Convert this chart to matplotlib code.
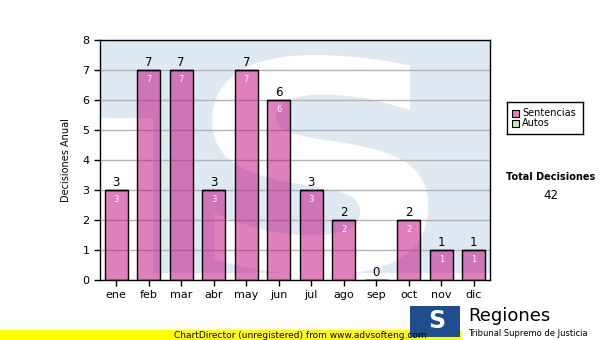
import numpy as np
import matplotlib.pyplot as plt
from matplotlib.patches import Rectangle, PathPatch
from matplotlib.textpath import TextPath
from matplotlib.font_manager import FontProperties
from matplotlib.transforms import Affine2D

meses = ["ene", "feb", "mar", "abr", "may", "jun", "jul", "ago", "sep", "oct", "nov", "dic"]
sentencias = [3, 7, 7, 3, 7, 6, 3, 2, 0, 2, 1, 1]
autos = [0, 0, 0, 0, 0, 0, 0, 0, 0, 0, 0, 0]
total = sum(sentencias) + sum(autos)

W, H = 600, 340
fig = plt.figure(figsize=(6, 3.4), dpi=100)
fig.patch.set_facecolor("white")


def fx(px):
    return px / W


def fy(py):
    return 1 - py / H


ax = fig.add_axes([fx(100), fy(280), fx(490) - fx(100), fy(40) - fy(280)])
ax.set_xlim(-0.5, 11.5)
ax.set_ylim(0, 8)

# marca de agua (fondo azul claro con una S blanca)
azul = "#dfe9f2"
ax.add_patch(Rectangle((-0.5, 5.4), 12, 2.6, facecolor=azul, edgecolor="none", zorder=0))
ax.add_patch(Rectangle((1.13, 0.23), 10.37, 5.2, facecolor=azul, edgecolor="none", zorder=0))
tp = TextPath((0, 0), "S", prop=FontProperties(family="DejaVu Sans", weight="bold"))
ext = tp.get_extents()
x0, x1, y0, y1 = 2.95, 9.6, 0.17, 7.5
tr = (Affine2D().translate(-ext.x0, -ext.y0)
      .scale((x1 - x0) / ext.width, (y1 - y0) / ext.height)
      .translate(x0, y0))
ax.add_patch(PathPatch(tr.transform_path(tp), facecolor="white", edgecolor="none", zorder=0.5))

ax.yaxis.grid(True, color="#b4b4b4", linewidth=1)
ax.set_axisbelow(True)

x = np.arange(len(meses))
ax.bar(x, sentencias, width=0.7, color="#c1017b", alpha=0.5, zorder=2)
ax.bar(x, sentencias, width=0.7, facecolor="none", edgecolor="black", linewidth=1, zorder=3)
ax.bar(x, autos, bottom=sentencias, width=0.7, color="#d0e8a0", edgecolor="black", zorder=3)

for i, v in enumerate(sentencias):
    t = v + autos[i]
    ax.text(i, t + 0.05, str(t), ha="center", va="bottom", fontsize=8.5, color="black", zorder=4)
    if v > 0:
        ax.text(i, v - 0.15, str(v), ha="center", va="top", fontsize=6, color="white", zorder=4)

ax.set_xticks(x)
ax.set_xticklabels(meses)
ax.set_yticks(range(0, 9))
ax.tick_params(axis="both", labelsize=8, length=4, width=1, direction="out", colors="black")
for s in ax.spines.values():
    s.set_linewidth(1)
    s.set_color("black")
ax.set_ylabel("Decisiones Anual", fontsize=7)
ax.yaxis.set_label_coords(-0.075, 0.5)

# leyenda
leg_ax = fig.add_axes([fx(507), fy(134), fx(583) - fx(507), fy(102) - fy(134)])
leg_ax.set_xlim(0, 76)
leg_ax.set_ylim(32, 0)
leg_ax.set_xticks([])
leg_ax.set_yticks([])
for s in leg_ax.spines.values():
    s.set_linewidth(1)
leg_ax.add_patch(Rectangle((5, 8), 7, 7, facecolor="#e080bc", edgecolor="black", linewidth=0.8))
leg_ax.add_patch(Rectangle((5, 18), 7, 7, facecolor="#d0e8a0", edgecolor="black", linewidth=0.8))
leg_ax.text(15, 11.5, "Sentencias", fontsize=7, va="center")
leg_ax.text(15, 21.5, "Autos", fontsize=7, va="center")

fig.text(fx(551), fy(177), "Total Decisiones", fontsize=7, weight="bold", ha="center", va="center")
fig.text(fx(551), fy(196), str(total), fontsize=8.5, ha="center", va="center")

# franja inferior y logotipo
fig.patches.append(Rectangle((0, 0), 1, fy(330), transform=fig.transFigure,
                             facecolor="#ffff00", edgecolor="none", zorder=1))
fig.text(fx(300), fy(335), "ChartDirector (unregistered) from www.advsofteng.com",
         fontsize=6.5, ha="center", va="center", zorder=3)
fig.patches.append(Rectangle((fx(462), 0), fx(138), fy(300), transform=fig.transFigure,
                             facecolor="white", edgecolor="none", zorder=2))
fig.patches.append(Rectangle((fx(410), fy(337)), fx(50), fy(306) - fy(337), transform=fig.transFigure,
                             facecolor="#1f4e8c", edgecolor="none", zorder=2))
fig.text(fx(437), fy(321), "S", fontsize=17, weight="bold", family="DejaVu Sans",
         color="white", ha="center", va="center", zorder=3)
fig.text(fx(468), fy(316), "Regiones", fontsize=13, ha="left", va="center", zorder=3)
fig.text(fx(468), fy(334), "Tribunal Supremo de Justicia", fontsize=6, ha="left", va="center", zorder=3)

fig.savefig("out.png", dpi=100)
